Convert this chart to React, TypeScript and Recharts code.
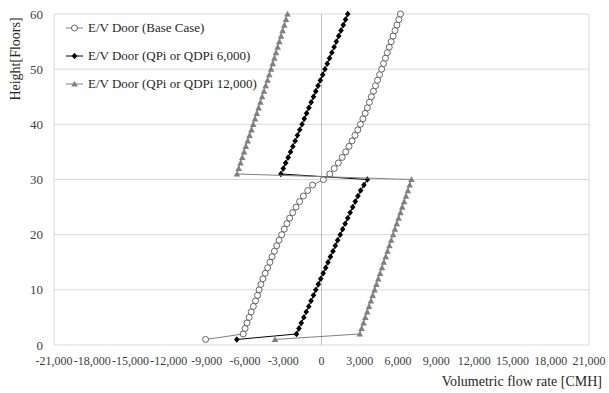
import {
  CartesianGrid,
  Legend,
  ReferenceLine,
  Scatter,
  ScatterChart,
  XAxis,
  YAxis,
} from "recharts";

const floors = [
  1, 2, 3, 4, 5, 6, 7, 8, 9, 10, 11, 12, 13, 14, 15, 16, 17, 18, 19, 20,
  21, 22, 23, 24, 25, 26, 27, 28, 29, 30, 31, 32, 33, 34, 35, 36, 37, 38, 39, 40,
  41, 42, 43, 44, 45, 46, 47, 48, 49, 50, 51, 52, 53, 54, 55, 56, 57, 58, 59, 60,
];

const baseCase = [
  -9100, -6150, -6000, -5850, -5680, -5520, -5350, -5180, -5020, -4900,
  -4760, -4600, -4420, -4230, -4050, -3880, -3700, -3520, -3330, -3130,
  -2920, -2720, -2500, -2260, -2000, -1720, -1420, -1080, -700, 150,
  650, 1000, 1320, 1620, 1900, 2160, 2400, 2630, 2850, 3060,
  3250, 3430, 3600, 3760, 3920, 4080, 4240, 4400, 4560, 4720,
  4870, 5020, 5170, 5320, 5470, 5620, 5770, 5920, 6070, 6200,
];

const qdpi6000 = [
  -6650, -1960, -1770, -1590, -1390, -1200, -1000, -820, -630, -450,
  -250, -60, 130, 330, 510, 700, 900, 1080, 1270, 1470,
  1660, 1860, 2060, 2250, 2450, 2650, 2860, 3070, 3330, 3600,
  -3190, -3000, -2810, -2620, -2430, -2250, -2070, -1890, -1710, -1530,
  -1350, -1170, -990, -810, -630, -450, -270, -90, 90, 270,
  450, 630, 810, 990, 1170, 1350, 1530, 1710, 1890, 2060,
];

const qdpi12000 = [
  -3650, 3010, 3150, 3300, 3440, 3590, 3730, 3880, 4020, 4170,
  4310, 4460, 4600, 4750, 4890, 5040, 5180, 5330, 5470, 5620,
  5760, 5910, 6050, 6200, 6340, 6490, 6630, 6780, 6920, 7060,
  -6640, -6500, -6360, -6220, -6080, -5940, -5800, -5650, -5500, -5360,
  -5220, -5080, -4940, -4800, -4660, -4520, -4380, -4240, -4100, -3960,
  -3830, -3700, -3570, -3440, -3310, -3180, -3050, -2920, -2790, -2670,
];

const seriesNames = [
  "E/V Door (Base Case)",
  "E/V Door (QPi or QDPi 6,000)",
  "E/V Door (QPi or QDPi 12,000)",
];

const xTicks = [
  -21000, -18000, -15000, -12000, -9000, -6000, -3000, 0, 3000, 6000, 9000,
  12000, 15000, 18000, 21000,
];
const yTicks = [0, 10, 20, 30, 40, 50, 60];

const FONT = "'Liberation Serif', 'Times New Roman', serif";
const TEXT = "#404040";

const toPoints = (values: number[]) =>
  floors.map((f, i) => ({ x: values[i], y: f }));

const baseData = toPoints(baseCase);
const data6000 = toPoints(qdpi6000);
const data12000 = toPoints(qdpi12000);

function CircleMark(props: any) {
  const { cx, cy } = props;
  return <circle cx={cx} cy={cy} r={3} fill="#fff" stroke="#404040" strokeWidth={0.8} />;
}

function DiamondMark(props: any) {
  const { cx, cy } = props;
  return (
    <path
      d={`M${cx},${cy - 3.2}L${cx + 2.8},${cy}L${cx},${cy + 3.2}L${cx - 2.8},${cy}Z`}
      fill="#000"
    />
  );
}

function TriangleMark(props: any) {
  const { cx, cy } = props;
  return (
    <path
      d={`M${cx},${cy - 3.3}L${cx + 3.3},${cy + 2.6}L${cx - 3.3},${cy + 2.6}Z`}
      fill="#808080"
    />
  );
}

function LegendBox() {
  const lines = ["#808080", "#000", "#808080"];
  const marks = [CircleMark, DiamondMark, TriangleMark];
  return (
    <div style={{ fontFamily: FONT, fontSize: 13, color: "#262626" }}>
      {seriesNames.map((name, i) => {
        const Mark = marks[i];
        return (
          <div key={name} style={{ display: "flex", alignItems: "center", height: 28 }}>
            <svg width={22} height={28}>
              <line x1={2} x2={19} y1={14} y2={14} stroke={lines[i]} strokeWidth={1} />
              <Mark cx={10.5} cy={14} />
            </svg>
            <span style={{ marginLeft: 2, whiteSpace: "nowrap" }}>{name}</span>
          </div>
        );
      })}
    </div>
  );
}

function YTitle() {
  return (
    <text
      x={0}
      y={0}
      transform="translate(20,59) rotate(-90)"
      textAnchor="middle"
      fontFamily={FONT}
      fontSize={14}
      fill="#262626"
    >
      Height[Floors]
    </text>
  );
}

function XTitle() {
  return (
    <text x={602} y={386} textAnchor="end" fontFamily={FONT} fontSize={14} fill="#262626">
      Volumetric flow rate [CMH]
    </text>
  );
}

export default function App() {
  return (
    <div style={{ position: "absolute", left: 0, top: 0 }}>
      <ScatterChart
        width={609}
        height={393}
        margin={{ top: 14, right: 20, left: 0, bottom: 0 }}
      >
        <CartesianGrid vertical={false} stroke="#d9d9d9" />
        <XAxis
          type="number"
          dataKey="x"
          domain={[-21000, 21000]}
          ticks={xTicks}
          interval={0}
          height={48}
          tickSize={9}
          axisLine={false}
          tickLine={false}
          tickFormatter={(v) => v.toLocaleString("en-US")}
          tick={{ fontFamily: FONT, fontSize: 12, fill: TEXT }}
          label={<XTitle />}
        />
        <YAxis
          type="number"
          dataKey="y"
          domain={[0, 60]}
          ticks={yTicks}
          width={54}
          tickSize={9}
          axisLine={false}
          tickLine={false}
          tick={{ fontFamily: FONT, fontSize: 13, fill: TEXT }}
          label={<YTitle />}
        />
        <ReferenceLine x={-21000} stroke="#d9d9d9" />
        <ReferenceLine x={21000} stroke="#d9d9d9" />
        <ReferenceLine x={0} stroke="#bfbfbf" />
        <Legend
          layout="vertical"
          align="center"
          verticalAlign="middle"
          wrapperStyle={{ left: 64, top: 14, width: 200 }}
          content={() => <LegendBox />}
        />
        <Scatter
          name={seriesNames[0]}
          data={baseData}
          line={{ stroke: "#808080", strokeWidth: 1 }}
          shape={<CircleMark />}
          isAnimationActive={false}
        />
        <Scatter
          name={seriesNames[1]}
          data={data6000}
          line={{ stroke: "#000", strokeWidth: 1 }}
          shape={<DiamondMark />}
          isAnimationActive={false}
        />
        <Scatter
          name={seriesNames[2]}
          data={data12000}
          line={{ stroke: "#808080", strokeWidth: 1 }}
          shape={<TriangleMark />}
          isAnimationActive={false}
        />
      </ScatterChart>
    </div>
  );
}
